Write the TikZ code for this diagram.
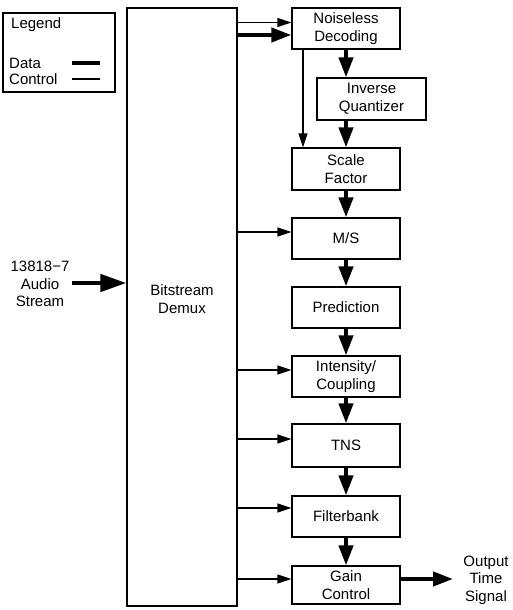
\documentclass[tikz,border=0pt]{standalone}
\usepackage{fontspec}
\setmainfont{Liberation Sans}
\usetikzlibrary{arrows.meta}
\begin{document}
\begin{tikzpicture}[x=1pt,y=-1pt,
  every node/.style={font=\fontsize{15}{17.5}\selectfont},
  blk/.style={draw,line width=1.2pt,minimum width=108pt,align=center,inner sep=0pt},
  ctl/.style={line width=1.2pt,-{Triangle[length=14pt,width=9pt]}},
  dat/.style={line width=4pt,-{Triangle[length=20pt,width=14pt]}},
  lbl/.style={align=center,inner sep=0pt}]
\useasboundingbox (0,0) rectangle (513,610);
% legend
\node[draw,line width=1.2pt,minimum width=112pt,minimum height=79pt,inner sep=0pt] (leg) at (59,52.5) {};
\node[anchor=west,inner sep=0pt] (legt) at (11,25) {Legend};
\node[anchor=west,inner sep=0pt] (legd) at (9,63) {Data};
\node[anchor=west,inner sep=0pt] (legc) at (9,79) {Control};
\coordinate (ld1) at (72,63); \coordinate (ld2) at (100,63);
\coordinate (lc1) at (72,79); \coordinate (lc2) at (100,79);
\draw[line width=3.5pt] (ld1) -- (ld2);
\draw[line width=1.2pt] (lc1) -- (lc2);
% demux
\node[draw,line width=1.2pt,minimum width=110pt,minimum height=598pt,inner sep=0pt] (dmx) at (182,307) {};
\node[lbl] (dmxt) at (182,299) {Bitstream\\Demux};
% blocks
\node[blk,minimum height=41pt] (nd) at (346,28.5) {Noiseless\\Decoding};
\node[blk,minimum width=109pt,minimum height=42pt] (iq) at (371.5,99) {Inverse\\Quantizer};
\node[blk,minimum height=42pt] (sf) at (346,169) {Scale\\Factor};
\node[blk,minimum height=41pt] (ms) at (346,238.5) {M/S};
\node[blk,minimum height=41pt] (pr) at (346,307.5) {Prediction};
\node[blk,minimum height=41pt] (ic) at (346,376.5) {Intensity/\\Coupling};
\node[blk,minimum height=43pt] (tns) at (346,445.5) {TNS};
\node[blk,minimum height=41pt] (fb) at (346,516.5) {Filterbank};
\node[blk,minimum height=38pt] (gc) at (346,585) {Gain\\Control};
% side texts
\node[lbl] (ain) at (40,284) {13818−7\\Audio\\Stream};
\node[lbl] (aout) at (486,580) {Output\\Time\\Signal};
\coordinate (ainT) at (72,283);
\coordinate (aoutT) at (453,579);
% data arrows
\draw[dat] (nd.south) -- (nd.south |- iq.north);
\draw[dat] (iq.south -| nd.south) -- (sf.north);
\draw[dat] (sf) -- (ms);
\draw[dat] (ms) -- (pr);
\draw[dat] (pr) -- (ic);
\draw[dat] (ic) -- (tns);
\draw[dat] (tns) -- (fb);
\draw[dat] (fb) -- (gc);
\draw[dat] (dmx.east |- 0,35) -- (nd.west |- 0,35);
\draw[line width=4.5pt,-{Triangle[length=26pt,width=17pt]}] (ainT) -- (dmx.west |- ainT);
\draw[dat] (gc.east |- aoutT) -- (aoutT);
% control arrows
\draw[ctl] (dmx.east |- 0,22.5) -- (nd.west |- 0,22.5);
\draw[ctl] (nd.south -| 303,0) -- (sf.north -| 303,0);
\draw[ctl] (dmx.east |- 0,232) -- (ms.west |- 0,232);
\draw[ctl] (dmx.east |- 0,370) -- (ic.west |- 0,370);
\draw[ctl] (dmx.east |- 0,439) -- (tns.west |- 0,439);
\draw[ctl] (dmx.east |- 0,508) -- (fb.west |- 0,508);
\draw[ctl] (dmx.east |- 0,579) -- (gc.west |- 0,579);
\end{tikzpicture}
\end{document}
